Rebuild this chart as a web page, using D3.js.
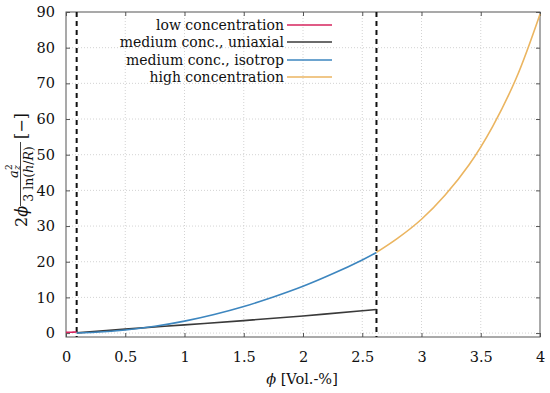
<!DOCTYPE html>
<html><head><meta charset="utf-8">
<script src="https://cdn.jsdelivr.net/npm/d3@7"></script>
<style>body{margin:0;background:#fff}svg{display:block}</style>
</head><body><svg id="c" width="550" height="393"></svg>
<script>
// ---- data ----
const xTicks = [0, 0.5, 1, 1.5, 2, 2.5, 3, 3.5, 4];
const xTickLabels = ["0", "0.5", "1", "1.5", "2", "2.5", "3", "3.5", "4"];
const yTicks = [0, 10, 20, 30, 40, 50, 60, 70, 80, 90];
const yTickLabels = ["0", "10", "20", "30", "40", "50", "60", "70", "80", "90"];
const seriesNames = ["low concentration", "medium conc., uniaxial", "medium conc., isotrop", "high concentration"];
const seriesColors = ["#d6245e", "#3a3a3a", "#3d86bf", "#ebb560"];
const lowX = [0, 0.045, 0.09];
const lowY = [0.2, 0.25, 0.3];
const uniX = [0.09, 0.5, 1.0, 1.5, 2.0, 2.5, 2.62];
const uniY = [0.05, 1.1, 2.3, 3.5, 4.8, 6.25, 6.6];
const isoX = [0.09, 0.25, 0.5, 0.75, 1.0, 1.25, 1.5, 1.75, 2.0, 2.25, 2.5, 2.62];
const isoY = [0.03, 0.22, 0.85, 1.9, 3.35, 5.2, 7.45, 10.1, 13.1, 16.6, 20.5, 22.6];
const highX = [2.62, 2.8, 3.0, 3.2, 3.4, 3.6, 3.8, 4.0];
const highY = [22.6, 26.6, 31.9, 38.7, 47.1, 57.9, 71.5, 89.4];
const boundaries = [0.09, 2.62];

// ---- layout ----
const FONT = '"DejaVu Serif",serif';
const FS = 14;
const L = 66, R = 540, T = 12, B = 337;
const svg = d3.select("#c").attr("font-family", FONT);
const x = d3.scaleLinear().domain([0, 4]).range([L, R]);
const y = d3.scaleLinear().domain([-1.1, 90]).range([B, T]);

// grid
const grid = svg.append("g").attr("stroke", "#c8c8c8").attr("stroke-width", 0.8).attr("stroke-dasharray", "1,2");
xTicks.filter(t => t > 0 && t < 4).forEach(t => grid.append("line").attr("x1", x(t)).attr("x2", x(t)).attr("y1", T).attr("y2", B));
yTicks.filter(t => t < 90).forEach(t => grid.append("line").attr("x1", L).attr("x2", R).attr("y1", y(t)).attr("y2", y(t)));

// axes (inward ticks on all sides)
const tl = 4;
svg.append("g").attr("transform", `translate(0,${B})`)
  .call(d3.axisBottom(x).tickValues(xTicks).tickFormat((d, i) => xTickLabels[i]).tickSizeInner(-tl).tickSizeOuter(0).tickPadding(15))
  .call(g => g.select(".domain").remove());
svg.append("g").attr("transform", `translate(0,${T})`)
  .call(d3.axisTop(x).tickValues(xTicks).tickFormat("").tickSizeInner(-tl).tickSizeOuter(0))
  .call(g => g.select(".domain").remove());
svg.append("g").attr("transform", `translate(${L},0)`)
  .call(d3.axisLeft(y).tickValues(yTicks).tickFormat((d, i) => yTickLabels[i]).tickSizeInner(-tl).tickSizeOuter(0).tickPadding(11))
  .call(g => g.select(".domain").remove());
svg.append("g").attr("transform", `translate(${R},0)`)
  .call(d3.axisRight(y).tickValues(yTicks).tickFormat("").tickSizeInner(-tl).tickSizeOuter(0))
  .call(g => g.select(".domain").remove());
svg.selectAll("g").filter(function(){ return this.hasAttribute("font-family"); }).attr("font-family", FONT);
svg.selectAll(".tick line").attr("stroke", "#555");
svg.selectAll(".tick text").attr("font-size", FS + 0.5).attr("fill", "#111");

// frame
svg.append("rect").attr("x", L).attr("y", T).attr("width", R - L).attr("height", B - T)
  .attr("fill", "none").attr("stroke", "#555").attr("stroke-width", 1);

// boundaries
boundaries.forEach(b => svg.append("line").attr("x1", x(b)).attr("x2", x(b)).attr("y1", T).attr("y2", B)
  .attr("stroke", "#111").attr("stroke-width", 2).attr("stroke-dasharray", "5,4"));

// curves
const line = d3.line().x(d => x(d[0])).y(d => y(d[1])).curve(d3.curveCatmullRom);
const series = [[lowX, lowY], [uniX, uniY], [isoX, isoY], [highX, highY]];
series.forEach((s, i) => {
  const pts = s[0].map((v, j) => [v, s[1][j]]);
  svg.append("path").datum(pts).attr("d", line).attr("fill", "none")
    .attr("stroke", seriesColors[i]).attr("stroke-width", 1.6);
});

// legend
const legY = [25, 42, 60, 77];
seriesNames.forEach((n, i) => {
  svg.append("text").attr("x", 284).attr("y", legY[i]).attr("dy", "0.36em").attr("text-anchor", "end")
    .attr("font-size", FS).attr("fill", "#111").text(n);
  svg.append("line").attr("x1", 287).attr("x2", 332).attr("y1", legY[i]).attr("y2", legY[i])
    .attr("stroke", seriesColors[i]).attr("stroke-width", 1.6);
});

// x label
const xl = svg.append("text").attr("x", 302).attr("y", 384).attr("text-anchor", "middle").attr("font-size", FS + 0.5).attr("fill", "#111");
xl.append("tspan").attr("font-style", "italic").text("ϕ");
xl.append("tspan").text(" [Vol.-%]");

// y label (rotated)
const yl = svg.append("g").attr("transform", "translate(20.5,172) rotate(-90)").attr("fill", "#111");
const t1 = yl.append("text").attr("x", -55).attr("y", 6).attr("font-size", 16);
t1.append("tspan").text("2");
t1.append("tspan").attr("font-style", "italic").text("ϕ");
yl.append("line").attr("x1", -34).attr("x2", 30).attr("y1", 0).attr("y2", 0).attr("stroke", "#111").attr("stroke-width", 0.8);
yl.append("text").attr("x", -6).attr("y", -3).attr("font-size", 13).attr("font-style", "italic").text("a");
yl.append("text").attr("x", 2).attr("y", -9).attr("font-size", 9).text("2");
yl.append("text").attr("x", 2).attr("y", -1).attr("font-size", 9).attr("font-style", "italic").text("z");
const den = yl.append("text").attr("x", -2).attr("y", 12.5).attr("font-size", 12.5).attr("text-anchor", "middle");
den.append("tspan").text("3 ln(");
den.append("tspan").attr("font-style", "italic").text("h");
den.append("tspan").text("/");
den.append("tspan").attr("font-style", "italic").text("R");
den.append("tspan").text(")");
yl.append("text").attr("x", 33).attr("y", 6).attr("font-size", 16).text("[−]");
</script></body></html>
